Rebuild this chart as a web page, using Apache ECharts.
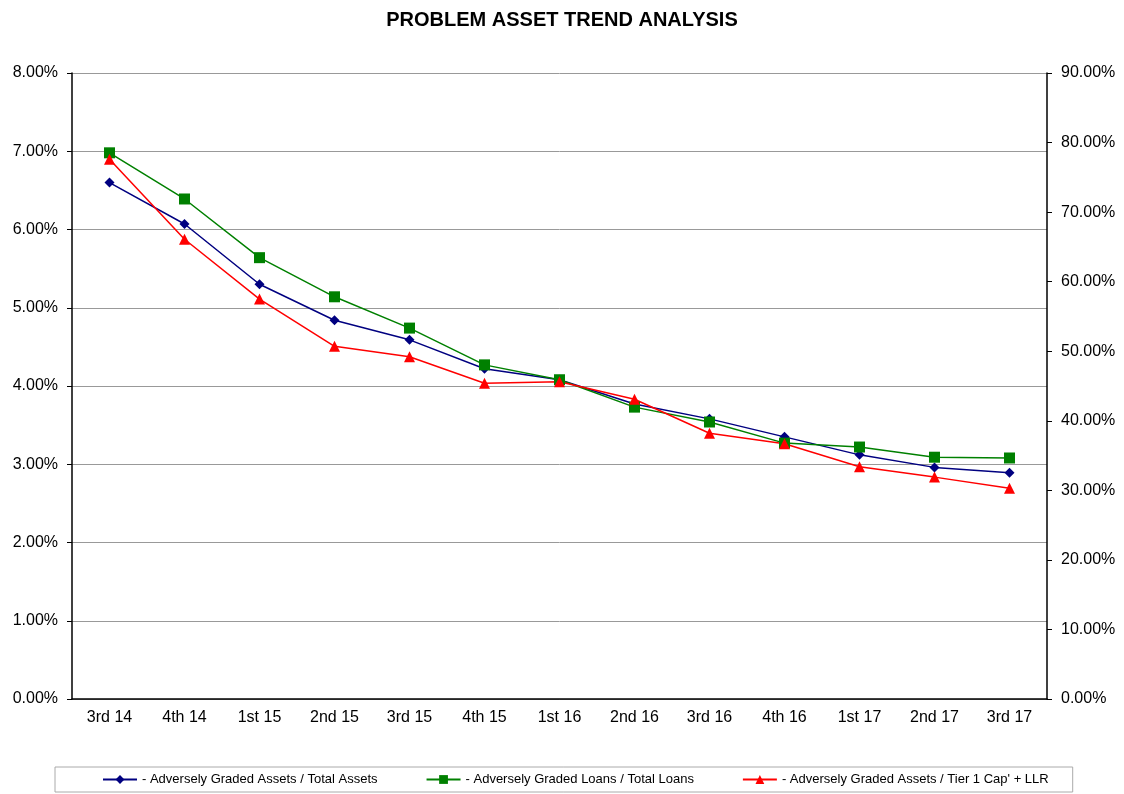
<!DOCTYPE html>
<html lang="en">
<head>
    <meta charset="UTF-8">
    <title>Problem Asset Trend Analysis</title>
    <script src="https://cdn.jsdelivr.net/npm/echarts@6/dist/echarts.min.js"></script>
    <style>
        html, body { margin: 0; padding: 0; background: #fff; }
        #chart { width: 1124px; height: 794px; }
    </style>
</head>
<body>
    <div id="chart"></div>
    <script>
        // quarters on the x axis
        const quarters = ['3rd 14', '4th 14', '1st 15', '2nd 15', '3rd 15', '4th 15', '1st 16',
            '2nd 16', '3rd 16', '4th 16', '1st 17', '2nd 17', '3rd 17'];
        // left axis (%)
        const assetsToTotal = [6.60, 6.07, 5.30, 4.84, 4.59, 4.22, 4.08, 3.77, 3.58, 3.35, 3.12, 2.96, 2.89];
        const loansToTotal = [6.98, 6.39, 5.64, 5.14, 4.74, 4.27, 4.08, 3.73, 3.54, 3.27, 3.22, 3.09, 3.08];
        // right axis (%)
        const assetsToTier1 = [77.6, 66.1, 57.5, 50.7, 49.2, 45.4, 45.6, 43.1, 38.2, 36.7, 33.4, 31.9, 30.3];

        const font = 'Liberation Sans, Arial, sans-serif';
        const pct = function (v) { return v.toFixed(2) + '%'; };

        let myChart = echarts.init(document.getElementById('chart'));
        let option = {
            animation: false,
            textStyle: { fontFamily: font },
            title: {
                text: 'PROBLEM ASSET TREND ANALYSIS',
                left: 'center',
                top: 5,
                textStyle: { fontSize: 20, fontWeight: 'bold', color: '#000', fontFamily: font }
            },
            legend: {
                left: 55,
                top: 767,
                padding: [6, 24, 6, 47],
                itemGap: 48,
                itemWidth: 34,
                itemHeight: 11,
                borderColor: '#aaa',
                borderWidth: 1,
                textStyle: { fontSize: 13, color: '#000', fontFamily: font }
            },
            grid: { left: 72, right: 77, top: 73, bottom: 95 },
            xAxis: {
                type: 'category',
                data: quarters,
                boundaryGap: true,
                axisLine: { lineStyle: { color: '#000', width: 1.5 } },
                axisTick: { length: 4, lineStyle: { color: '#000' } },
                axisLabel: { fontSize: 16, color: '#000', margin: 11 }
            },
            yAxis: [{
                type: 'value',
                min: 0,
                max: 8,
                interval: 1,
                axisLine: { show: true, lineStyle: { color: '#000', width: 1.5 } },
                axisTick: { show: true, length: 5, lineStyle: { color: '#000' } },
                axisLabel: { fontSize: 16, color: '#000', margin: 14, formatter: pct },
                splitLine: { lineStyle: { color: '#999', width: 1 } }
            }, {
                type: 'value',
                min: 0,
                max: 90,
                interval: 10,
                position: 'right',
                axisLine: { show: true, lineStyle: { color: '#000', width: 1.5 } },
                axisTick: { show: true, length: 5, lineStyle: { color: '#000' } },
                axisLabel: { fontSize: 16, color: '#000', margin: 14, formatter: pct },
                splitLine: { show: false }
            }],
            series: [{
                name: '- Adversely Graded Assets / Total Assets',
                type: 'line',
                yAxisIndex: 0,
                data: assetsToTotal,
                symbol: 'diamond',
                symbolSize: 10,
                color: '#000080',
                lineStyle: { width: 1.5 }
            }, {
                name: '- Adversely Graded Loans / Total Loans',
                type: 'line',
                yAxisIndex: 0,
                data: loansToTotal,
                symbol: 'rect',
                symbolSize: 11,
                color: '#008000',
                lineStyle: { width: 1.5 }
            }, {
                name: "- Adversely Graded Assets / Tier 1 Cap' + LLR",
                type: 'line',
                yAxisIndex: 1,
                data: assetsToTier1,
                symbol: 'triangle',
                symbolSize: 11,
                color: '#ff0000',
                lineStyle: { width: 1.5 }
            }]
        };
        myChart.setOption(option);
    </script>
</body>
</html>
